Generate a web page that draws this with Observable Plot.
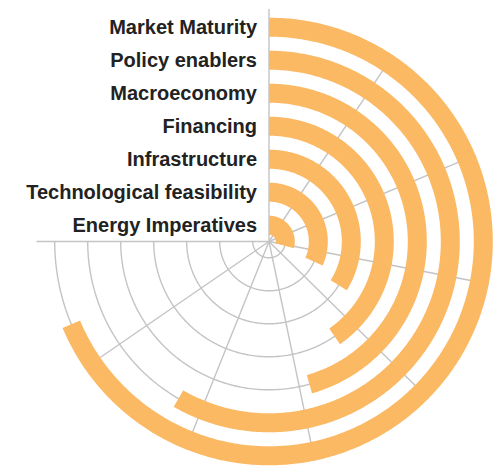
<!DOCTYPE html>
<html>
<head>
<meta charset="utf-8">
<script src="https://cdn.jsdelivr.net/npm/d3@7"></script>
<script src="https://cdn.jsdelivr.net/npm/@observablehq/plot@0.6"></script>
<style>
  html, body { margin: 0; padding: 0; background: #fff; }
  #chart svg { display: block; }
</style>
</head>
<body>
<div id="chart"></div>
<script>
// Categories from the innermost ring to the outermost ring
const categories = [
  "Energy Imperatives",
  "Technological feasibility",
  "Infrastructure",
  "Financing",
  "Macroeconomy",
  "Policy enablers",
  "Market Maturity"
];
// Bar lengths (score units; one grid spoke = 1 unit)
const values = [3.12, 3.39, 3.63, 4.32, 4.88, 6.24, 7.35];
// Angular grid ticks (spokes)
const angleTicks = [1, 2, 3, 4, 5, 6, 7];
const angleMax = 10.7;

const W = 499, H = 469, cx = 268.5, cy = 241;
const frameRadius = 232;
const barColor = "#fbb964";
const gridColor = "#c4c4c4";

const angle = d3.scaleLinear().domain([0, angleMax]).range([0, 2 * Math.PI]);
const radius = d3.scaleBand().domain(categories).range([6.8, 223.8]).paddingInner(0.424).paddingOuter(0);
const bw = radius.bandwidth();
const spokeRadius = radius.range()[1];

// Bar outlines: outer arc then inner arc, converted to cartesian
const barPts = [];
categories.forEach((c, i) => {
  const r0 = radius(c), r1 = r0 + bw, a1 = angle(values[i]);
  const n = Math.max(2, Math.ceil(a1 / 0.01));
  for (let k = 0; k <= n; k++) { const a = a1 * k / n; barPts.push({name: c, x: r1 * Math.sin(a), y: r1 * Math.cos(a)}); }
  for (let k = n; k >= 0; k--) { const a = a1 * k / n; barPts.push({name: c, x: r0 * Math.sin(a), y: r0 * Math.cos(a)}); }
});

// Grid circles at band centres (drawn on the three open quadrants)
const circlePts = [];
categories.forEach(c => {
  const r = radius(c) + bw / 2;
  const n = 300;
  for (let k = 0; k <= n; k++) { const a = 1.5 * Math.PI * k / n; circlePts.push({name: c, x: r * Math.sin(a), y: r * Math.cos(a)}); }
});

const spokes = angleTicks.map(t => ({x2: spokeRadius * Math.sin(angle(t)), y2: spokeRadius * Math.cos(angle(t))}));

const labels = categories.map(c => ({name: c, y: radius(c) + bw / 2}));

const chart = Plot.plot({
  width: W,
  height: H,
  margin: 0,
  x: {type: "linear", domain: [-cx, W - cx], range: [0, W], axis: null},
  y: {type: "linear", domain: [cy, cy - H], range: [0, H], axis: null},
  marks: [
    Plot.line(circlePts, {x: "x", y: "y", z: "name", stroke: gridColor, strokeWidth: 1.4}),
    Plot.link(spokes, {x1: 0, y1: 0, x2: "x2", y2: "y2", stroke: gridColor, strokeWidth: 1.4}),
    Plot.line(barPts, {x: "x", y: "y", z: "name", fill: barColor, stroke: "none"}),
    Plot.ruleX([0], {y1: 0, y2: frameRadius, stroke: gridColor, strokeWidth: 1.4}),
    Plot.ruleY([0], {x1: -frameRadius, x2: 0, stroke: gridColor, strokeWidth: 1.4}),
    Plot.text(labels, {
      x: -12, y: "y", text: "name", textAnchor: "end", lineAnchor: "middle",
      fontSize: 20, fontWeight: "bold", fill: "#222",
      fontFamily: "'Liberation Sans', Arial, sans-serif"
    })
  ]
});
document.getElementById("chart").appendChild(chart);
</script>
</body>
</html>
